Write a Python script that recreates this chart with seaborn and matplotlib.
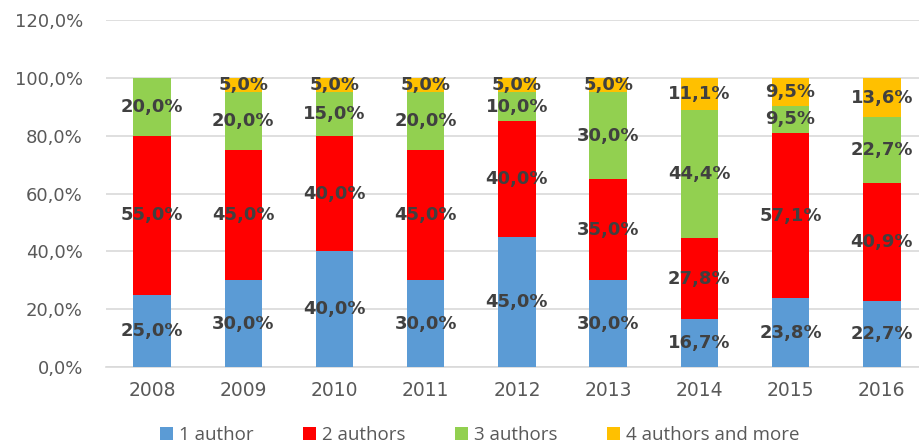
import matplotlib
matplotlib.use("Agg")
import matplotlib.pyplot as plt
import seaborn as sns
import pandas as pd
import numpy as np
from matplotlib.patches import Patch

years = ["2008", "2009", "2010", "2011", "2012", "2013", "2014", "2015", "2016"]
one_author = [25.0, 30.0, 40.0, 30.0, 45.0, 30.0, 16.7, 23.8, 22.7]
two_authors = [55.0, 45.0, 40.0, 45.0, 40.0, 35.0, 27.8, 57.1, 40.9]
three_authors = [20.0, 20.0, 15.0, 20.0, 10.0, 30.0, 44.4, 9.5, 22.7]
four_more = [0.0, 5.0, 5.0, 5.0, 5.0, 5.0, 11.1, 9.5, 13.6]
series_names = ["1 author", "2 authors", "3 authors", "4 authors and more"]
y_ticks = [0, 20, 40, 60, 80, 100, 120]

colors = ["#5b9bd5", "#ff0000", "#92d050", "#ffc000"]

sns.set_theme(style="white")
plt.rcParams['font.family'] = ['DejaVu Sans']

fig = plt.figure(figsize=(9.19, 4.46), dpi=100)
ax = fig.add_axes([0.1158, 0.1771, 0.8934, 0.778])

series = [one_author, two_authors, three_authors, four_more]
bottom = np.zeros(len(years))
for name, vals, col in zip(series_names, series, colors):
    df = pd.DataFrame({"year": years, "value": vals})
    sns.barplot(data=df, x="year", y="value", color=col, bottom=bottom,
                width=0.41, ax=ax, saturation=1, linewidth=0, zorder=3)
    for i, v in enumerate(vals):
        if v > 0:
            ax.text(i, bottom[i] + v / 2, f"{v:.1f}%".replace(".", ","),
                    ha="center", va="center", fontsize=13, fontweight="bold",
                    color="#404040", zorder=5)
    bottom = bottom + np.array(vals)

ax.set_ylim(0, 120)
ax.set_xlim(-0.5, len(years) - 0.5)
ax.set_yticks(y_ticks)
ax.set_yticklabels([f"{t:.1f}%".replace(".", ",") for t in y_ticks],
                   fontsize=13, color="#595959")
ax.tick_params(axis="x", labelsize=13.5, labelcolor="#595959", length=0, pad=10)
ax.tick_params(axis="y", length=0, pad=17)
ax.set_xlabel("")
ax.set_ylabel("")
ax.yaxis.grid(True, color="#d9d9d9", linewidth=1.2, zorder=0)
ax.set_axisbelow(True)
for s in ["top", "right", "left"]:
    ax.spines[s].set_visible(False)
ax.spines["bottom"].set_color("#d9d9d9")
ax.spines["bottom"].set_linewidth(1.2)

handles = [Patch(facecolor=c, edgecolor="none") for c in colors]
fig.legend(handles, series_names, loc="center", bbox_to_anchor=(0.522, 0.024),
           ncol=4, frameon=False, labelcolor="#595959",
           handlelength=0.7, handleheight=0.7, handletextpad=0.3,
           columnspacing=2.65, prop={"family": "Open Sans", "size": 13.5})

fig.savefig("out.png", dpi=100)
